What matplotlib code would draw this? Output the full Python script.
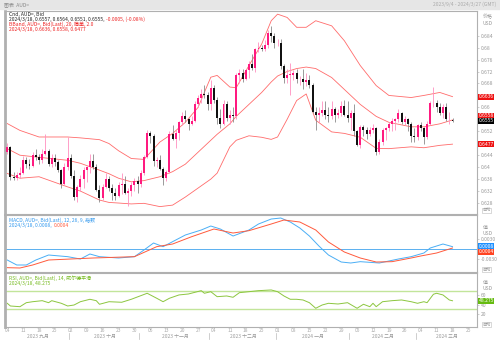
import matplotlib.pyplot as plt
import matplotlib.transforms as mtransforms
from matplotlib.patches import Rectangle

plt.rcParams['font.family'] = ['Noto Sans CJK SC', 'DejaVu Sans']

# daily candles, 2023/9/4 .. 2024/3/18 (index = trading day)
opens = [0.6450, 0.6468, 0.6367, 0.6365, 0.6375, 0.6380, 0.6425, 0.6412, 0.6405, 0.6440,
         0.6435, 0.6425, 0.6445, 0.6455, 0.6410, 0.6430, 0.6418, 0.6390, 0.6345, 0.6400,
         0.6430, 0.6370, 0.6300, 0.6335, 0.6360, 0.6390, 0.6400, 0.6420, 0.6400, 0.6325,
         0.6298, 0.6335, 0.6360, 0.6330, 0.6315, 0.6305, 0.6340, 0.6345, 0.6315, 0.6320,
         0.6340, 0.6355, 0.6345, 0.6380, 0.6435, 0.6515, 0.6505, 0.6420, 0.6425, 0.6395,
         0.6365, 0.6385, 0.6510, 0.6495, 0.6515, 0.6550, 0.6570, 0.6560, 0.6545, 0.6555,
         0.6610, 0.6630, 0.6645, 0.6640, 0.6610, 0.6665, 0.6625, 0.6565, 0.6545, 0.6610,
         0.6565, 0.6575, 0.6570, 0.6710, 0.6715, 0.6695, 0.6725, 0.6745, 0.6732, 0.6795,
         0.6800, 0.6795, 0.6810, 0.6850, 0.6840, 0.6815, 0.6815, 0.6740, 0.6700, 0.6710,
         0.6710, 0.6715, 0.6695, 0.6695, 0.6685, 0.6690, 0.6675, 0.6585, 0.6575, 0.6580,
         0.6590, 0.6575, 0.6570, 0.6595, 0.6575, 0.6580, 0.6605, 0.6575, 0.6565, 0.6580,
         0.6520, 0.6475, 0.6535, 0.6525, 0.6510, 0.6525, 0.6530, 0.6450, 0.6485, 0.6525,
         0.6530, 0.6545, 0.6555, 0.6560, 0.6580, 0.6550, 0.6560, 0.6545, 0.6505, 0.6500,
         0.6540, 0.6530, 0.6500, 0.6545, 0.6615, 0.6615, 0.6600, 0.6580, 0.6600, 0.6560,
         0.6557]
highs = [0.6480, 0.6470, 0.6385, 0.6383, 0.6400, 0.6436, 0.6433, 0.6428, 0.6450, 0.6460,
         0.6445, 0.6460, 0.6510, 0.6460, 0.6445, 0.6445, 0.6425, 0.6395, 0.6415, 0.6500,
         0.6445, 0.6390, 0.6340, 0.6375, 0.6400, 0.6405, 0.6443, 0.6445, 0.6410, 0.6340,
         0.6345, 0.6380, 0.6370, 0.6345, 0.6330, 0.6350, 0.6380, 0.6370, 0.6330, 0.6350,
         0.6365, 0.6370, 0.6390, 0.6440, 0.6525, 0.6522, 0.6510, 0.6435, 0.6440, 0.6400,
         0.6390, 0.6520, 0.6540, 0.6525, 0.6555, 0.6585, 0.6590, 0.6565, 0.6570, 0.6620,
         0.6640, 0.6660, 0.6675, 0.6650, 0.6690, 0.6675, 0.6635, 0.6595, 0.6625, 0.6620,
         0.6590, 0.6600, 0.6715, 0.6730, 0.6728, 0.6730, 0.6755, 0.6780, 0.6800, 0.6820,
         0.6810, 0.6825, 0.6860, 0.6871, 0.6850, 0.6830, 0.6830, 0.6745, 0.6730, 0.6750,
         0.6725, 0.6730, 0.6705, 0.6730, 0.6715, 0.6710, 0.6680, 0.6600, 0.6600, 0.6620,
         0.6620, 0.6600, 0.6620, 0.6600, 0.6595, 0.6620, 0.6625, 0.6620, 0.6590, 0.6610,
         0.6525, 0.6540, 0.6540, 0.6535, 0.6535, 0.6545, 0.6535, 0.6495, 0.6530, 0.6535,
         0.6550, 0.6565, 0.6565, 0.6595, 0.6585, 0.6570, 0.6565, 0.6550, 0.6530, 0.6545,
         0.6550, 0.6535, 0.6555, 0.6620, 0.6668, 0.6625, 0.6615, 0.6610, 0.6615, 0.6585,
         0.6564]
lows = [0.6443, 0.6357, 0.6358, 0.6357, 0.6365, 0.6378, 0.6398, 0.6395, 0.6400, 0.6425,
        0.6410, 0.6415, 0.6440, 0.6405, 0.6400, 0.6405, 0.6385, 0.6330, 0.6340, 0.6390,
        0.6365, 0.6290, 0.6285, 0.6320, 0.6330, 0.6350, 0.6380, 0.6395, 0.6320, 0.6285,
        0.6290, 0.6330, 0.6320, 0.6290, 0.6290, 0.6300, 0.6310, 0.6310, 0.6270, 0.6305,
        0.6320, 0.6315, 0.6335, 0.6375, 0.6430, 0.6480, 0.6405, 0.6400, 0.6390, 0.6340,
        0.6355, 0.6380, 0.6490, 0.6465, 0.6490, 0.6540, 0.6550, 0.6525, 0.6540, 0.6550,
        0.6600, 0.6615, 0.6630, 0.6590, 0.6590, 0.6615, 0.6545, 0.6530, 0.6540, 0.6555,
        0.6545, 0.6550, 0.6560, 0.6680, 0.6685, 0.6690, 0.6700, 0.6725, 0.6720, 0.6785,
        0.6790, 0.6790, 0.6800, 0.6820, 0.6800, 0.6805, 0.6730, 0.6680, 0.6680, 0.6640,
        0.6690, 0.6680, 0.6675, 0.6660, 0.6670, 0.6665, 0.6580, 0.6525, 0.6550, 0.6570,
        0.6560, 0.6550, 0.6560, 0.6550, 0.6565, 0.6570, 0.6570, 0.6550, 0.6525, 0.6505,
        0.6470, 0.6465, 0.6505, 0.6495, 0.6505, 0.6515, 0.6442, 0.6445, 0.6475, 0.6490,
        0.6520, 0.6520, 0.6525, 0.6550, 0.6545, 0.6540, 0.6520, 0.6485, 0.6485, 0.6490,
        0.6520, 0.6478, 0.6495, 0.6540, 0.6600, 0.6585, 0.6575, 0.6565, 0.6555, 0.6545,
        0.6551]
closes = [0.6468, 0.6367, 0.6365, 0.6375, 0.6380, 0.6425, 0.6412, 0.6405, 0.6440, 0.6435,
          0.6425, 0.6445, 0.6455, 0.6410, 0.6430, 0.6418, 0.6390, 0.6345, 0.6400, 0.6430,
          0.6370, 0.6300, 0.6335, 0.6360, 0.6390, 0.6400, 0.6420, 0.6400, 0.6325, 0.6298,
          0.6335, 0.6360, 0.6330, 0.6315, 0.6305, 0.6340, 0.6345, 0.6315, 0.6320, 0.6340,
          0.6355, 0.6345, 0.6380, 0.6435, 0.6515, 0.6505, 0.6420, 0.6425, 0.6395, 0.6365,
          0.6385, 0.6510, 0.6495, 0.6515, 0.6550, 0.6570, 0.6560, 0.6545, 0.6555, 0.6610,
          0.6630, 0.6645, 0.6640, 0.6610, 0.6665, 0.6625, 0.6565, 0.6545, 0.6610, 0.6565,
          0.6575, 0.6570, 0.6710, 0.6715, 0.6695, 0.6725, 0.6745, 0.6732, 0.6795, 0.6800,
          0.6795, 0.6810, 0.6850, 0.6840, 0.6815, 0.6815, 0.6740, 0.6700, 0.6710, 0.6710,
          0.6715, 0.6695, 0.6695, 0.6685, 0.6690, 0.6675, 0.6585, 0.6575, 0.6580, 0.6590,
          0.6575, 0.6570, 0.6595, 0.6575, 0.6580, 0.6605, 0.6575, 0.6565, 0.6580, 0.6520,
          0.6475, 0.6535, 0.6525, 0.6510, 0.6525, 0.6530, 0.6450, 0.6485, 0.6525, 0.6530,
          0.6545, 0.6555, 0.6560, 0.6580, 0.6550, 0.6560, 0.6545, 0.6505, 0.6500, 0.6540,
          0.6530, 0.6500, 0.6545, 0.6615, 0.6615, 0.6600, 0.6580, 0.6600, 0.6560, 0.6560,
          0.6555]

# bollinger band (20, 2.0)
bb_idx = [0, 4, 10, 19, 23, 29, 32, 35, 39, 43, 48, 52, 56, 60, 64, 66, 70, 72, 76, 80,
          83, 85, 88, 91, 94, 97, 102, 106, 111, 116, 120, 127, 131, 136, 140]
bb_upper = [0.6546, 0.6523, 0.6501, 0.6501, 0.6498, 0.6492, 0.6479, 0.6455, 0.6429, 0.6426,
            0.6484, 0.6513, 0.6550, 0.6600, 0.6701, 0.6707, 0.6668, 0.6666, 0.6740, 0.6812,
            0.6890, 0.6912, 0.6901, 0.6868, 0.6868, 0.6890, 0.6873, 0.6823, 0.6740, 0.6673,
            0.6640, 0.6633, 0.6640, 0.6650, 0.6636]
bb_middle = [0.6462, 0.6440, 0.6433, 0.6423, 0.6413, 0.6390, 0.6378, 0.6363, 0.6351, 0.6355,
             0.6368, 0.6385, 0.6410, 0.6450, 0.6490, 0.6510, 0.6545, 0.6570, 0.6610, 0.6650,
             0.6685, 0.6705, 0.6720, 0.6730, 0.6735, 0.6730, 0.6700, 0.6660, 0.6610, 0.6570,
             0.6550, 0.6535, 0.6535, 0.6545, 0.6558]
bb_lower = [0.6379, 0.6363, 0.6368, 0.6334, 0.6320, 0.6290, 0.6282, 0.6280, 0.6277, 0.6279,
            0.6268, 0.6273, 0.6300, 0.6330, 0.6360, 0.6380, 0.6468, 0.6490, 0.6505, 0.6500,
            0.6493, 0.6501, 0.6560, 0.6623, 0.6645, 0.6557, 0.6518, 0.6513, 0.6500, 0.6463,
            0.6462, 0.6468, 0.6465, 0.6473, 0.6477]

# MACD (12, 26, 9)
macd_idx = [0, 3, 6, 9, 13, 19, 23, 26, 29, 35, 40, 43, 46, 49, 52, 56, 61, 64, 67, 71,
            76, 79, 83, 86, 89, 92, 95, 98, 101, 105, 108, 111, 117, 123, 127, 131, 133, 137, 140]
macd_line = [-0.0032, -0.0047, -0.0047, -0.0032, -0.0017, -0.0022, -0.0029, -0.0014, -0.0022, -0.0026,
             -0.0022, -0.0002, 0.0019, 0.0008, 0.0023, 0.0043, 0.0058, 0.0070, 0.0061, 0.0040,
             0.0058, 0.0076, 0.0091, 0.0094, 0.0082, 0.0064, 0.0040, 0.0010, -0.0017, -0.0038,
             -0.0041, -0.0037, -0.0041, -0.0029, -0.0022, -0.0011, 0.0004, 0.0016, 0.0008]
sig_idx = [0, 4, 8, 13, 27, 40, 47, 52, 58, 65, 71, 76, 83, 87, 92, 97, 101, 106, 111, 116,
           121, 127, 130, 135, 140]
sig_line = [-0.0055, -0.0056, -0.0047, -0.0032, -0.0026, -0.0022, 0.0008, 0.0016, 0.0038, 0.0061,
            0.0049, 0.0056, 0.0076, 0.0088, 0.0082, 0.0058, 0.0022, -0.0008, -0.0026, -0.0038,
            -0.0037, -0.0026, -0.0020, -0.0011, 0.0004]

# RSI (14)
rsi_idx = [0, 1, 4, 6, 8, 11, 13, 14, 17, 19, 21, 23, 26, 28, 29, 32, 36, 39, 44, 47,
           49, 51, 54, 57, 61, 62, 64, 66, 69, 71, 73, 76, 79, 83, 85, 87, 89, 91, 93, 95,
           97, 99, 101, 104, 107, 110, 112, 114, 115, 116, 118, 121, 124, 127, 129, 131, 132, 134, 135, 137,
           139, 140]
rsi_vals = [42.9, 37.1, 35.6, 44.2, 46.3, 48.5, 44.2, 48.5, 42.9, 37.1, 39.2, 46.3, 51.5, 48.5, 40.8,
            46.3, 45.1, 51.5, 64.4, 53.7, 46.3, 53.7, 60.8, 62.9, 70.0, 64.4, 67.8, 57.1, 58.6, 55.8,
            65.7, 67.8, 70.0, 71.5, 67.8, 58.6, 51.5, 51.5, 50.0, 44.2, 32.2, 39.2, 42.9, 41.4, 44.2,
            32.2, 40.8, 35.6, 42.9, 35.6, 46.3, 48.5, 50.0, 46.3, 42.9, 46.3, 44.2, 62.3, 64.4, 60.8,
            50.0, 48.3]

week_days = ['04', '11', '18', '25', '02', '09', '16', '23', '30', '06', '13', '20', '27', '04', '11',
             '18', '25', '01', '08', '15', '22', '29', '05', '12', '19', '26', '04', '11', '18', '25']
months = ['2023 九月', '2023 十月', '2023 十一月', '2023 十二月', '2024 一月', '2024 二月', '2024 三月']
month_start = [0, 20, 42, 64, 85, 108, 129]

up_col = '#ff1a80'
band_col = '#ff6b6b'
grey = '#9a9a9a'
xl = (-0.7, 147.7)
fs = 3.6

fig = plt.figure(figsize=(5, 3.4), dpi=100)

# title bar
fig.patches.append(Rectangle((0, 0.974), 1, 0.026, transform=fig.transFigure, color='#e6e6e6', zorder=0))
fig.text(0.008, 0.987, '图表  AUD=', fontsize=fs, color='#888888', va='center')
fig.text(0.992, 0.987, '2023/9/4 - 2024/3/27 (GMT)', fontsize=fs, color='#aaaaaa', va='center', ha='right')

ax1 = fig.add_axes([0.01, 0.3706, 0.944, 0.5977])
ax2 = fig.add_axes([0.01, 0.2, 0.944, 0.1676])
ax3 = fig.add_axes([0.01, 0.0382, 0.944, 0.159])

for ax in (ax1, ax2, ax3):
    ax.set_xlim(*xl)
    for s in ax.spines.values():
        s.set_color('#b0b0b0')
        s.set_linewidth(0.8)
    ax.spines['left'].set_linewidth(2.0)
    ax.yaxis.tick_right()
    ax.tick_params(axis='y', labelsize=fs, labelcolor=grey, color='#bbbbbb', length=1.5, width=0.5, pad=1)
    ax.set_xticks([])


def chain(ax, first, rest, y, c1, c2, trans):
    # second coloured part placed right after the first one
    t = ax.text(0.008, y, first, color=c1, transform=trans, fontsize=fs, va='center', ha='left')
    ax.annotate(rest, xy=(1, 0.5), xycoords=t, xytext=(1.5, 0), textcoords='offset points',
                fontsize=fs, color=c2, va='center', ha='left')


# candles
idx = list(range(len(closes)))
for i in idx:
    o, h, l, c = opens[i], highs[i], lows[i], closes[i]
    up = c >= o
    body = up_col if up else '#111111'
    wick = '#ff8fbf' if up else '#8a8a8a'
    ax1.vlines(i, l, h, color=wick, lw=0.6, zorder=2)
    ax1.bar(i, max(abs(c - o), 0.00012), bottom=min(o, c), width=0.62, color=body, lw=0, zorder=3)

ax1.plot(bb_idx, bb_upper, color=band_col, lw=0.6, zorder=1)
ax1.plot(bb_idx, bb_middle, color=band_col, lw=0.6, zorder=1)
ax1.plot(bb_idx, bb_lower, color=band_col, lw=0.6, zorder=1)
ax1.set_ylim(0.62433, 0.69233)
ticks = [0.628 + 0.004 * k for k in range(15)]
hidden = ('0.664', '0.656', '0.648')
labels = []
for t in ticks:
    s = '%.3f' % t
    labels.append('' if s in hidden else s.rstrip('0'))
ax1.set_yticks(ticks)
ax1.set_yticklabels(labels)

ax1.text(0.008, 0.984, 'Cnd, AUD=, Bid', color='#222222', transform=ax1.transAxes, fontsize=fs, va='center')
chain(ax1, '2024/3/18, 0.6557, 0.6564, 0.6551, 0.6555,', '-0.0005, (-0.08%)', 0.958,
      '#222222', '#ee2222', ax1.transAxes)
ax1.text(0.008, 0.932, 'BBand, AUD=, Bid(Last), 20, 简单, 2.0', color='#ee2222',
         transform=ax1.transAxes, fontsize=fs, va='center')
ax1.text(0.008, 0.906, '2024/3/18, 0.6636, 0.6558, 0.6477', color='#ee2222',
         transform=ax1.transAxes, fontsize=fs, va='center')

tr1 = mtransforms.blended_transform_factory(ax1.transAxes, ax1.transData)
# value tags; the two near-equal ones are stacked as in the terminal
for pos, s, fc in [(0.6636, '0.6636', '#ee1111'), (0.6572, '0.6558', '#ee1111'),
                   (0.6555, '0.6555', '#000000'), (0.6477, '0.6477', '#ee1111')]:
    ax1.text(1.003, pos, s, transform=tr1, fontsize=fs, color='white', va='center', ha='left',
             bbox=dict(boxstyle='square,pad=0.12', fc=fc, ec='none'), clip_on=False, zorder=5)
ax1.text(1.012, 0.955, '价格\nUSD', transform=ax1.transAxes, fontsize=fs, color=grey, va='center',
         linespacing=1.25)

# MACD
ax2.axhline(0, color='#5ab0f0', lw=0.7)
ax2.plot(macd_idx, macd_line, color='#4aaef5', lw=0.7)
ax2.plot(sig_idx, sig_line, color='#ff5a3c', lw=0.7)
ax2.set_ylim(-0.0068, 0.0103)
ax2.set_yticks([-0.003, 0.003])
ax2.set_yticklabels(['-0.0030', '0.0030'])
ax2.text(0.008, 0.915, 'MACD, AUD=, Bid(Last), 12, 26, 9, 指数', color='#3399ee',
         transform=ax2.transAxes, fontsize=fs, va='center')
chain(ax2, '2024/3/18, 0.0008,', '0.0004', 0.82, '#3399ee', '#ff5a3c', ax2.transAxes)
tr2 = mtransforms.blended_transform_factory(ax2.transAxes, ax2.transData)
for pos, s, fc in [(0.0010, '0.0008', '#1e90ff'), (-0.0007, '0.0004', '#ff4422')]:
    ax2.text(1.003, pos, s, transform=tr2, fontsize=fs, color='white', va='center', ha='left',
             bbox=dict(boxstyle='square,pad=0.12', fc=fc, ec='none'), clip_on=False, zorder=5)
ax2.text(1.012, 0.72, '值\nUSD', transform=ax2.transAxes, fontsize=fs, color=grey, va='center',
         linespacing=1.25)

# RSI
ax3.axhline(70, color='#c2e59a', lw=1.0)
ax3.axhline(30, color='#c2e59a', lw=1.0)
ax3.plot(rsi_idx, rsi_vals, color='#8cc63f', lw=0.7)
ax3.set_ylim(-8, 108)
ax3.set_yticks([20, 40, 60])
ax3.text(0.008, 0.91, 'RSI, AUD=, Bid(Last), 14, 威尔德平滑', color='#77bb22',
         transform=ax3.transAxes, fontsize=fs, va='center')
ax3.text(0.008, 0.8, '2024/3/18, 48.275', color='#77bb22', transform=ax3.transAxes, fontsize=fs, va='center')
tr3 = mtransforms.blended_transform_factory(ax3.transAxes, ax3.transData)
ax3.text(1.003, 48.275, '48.275', transform=tr3, fontsize=fs, color='white', va='center', ha='left',
         bbox=dict(boxstyle='square,pad=0.12', fc='#66bb11', ec='none'), clip_on=False, zorder=5)
ax3.text(1.012, 0.76, '值\nUSD', transform=ax3.transAxes, fontsize=fs, color=grey, va='center',
         linespacing=1.25)

for ax in (ax1, ax2, ax3):
    ax.text(1.012, 0.008, '自动', transform=ax.transAxes, fontsize=3.0, color=grey, va='bottom', ha='left',
            bbox=dict(boxstyle='square,pad=0.1', fc='white', ec='#bbbbbb', lw=0.4), clip_on=False)

# date axis
trx = mtransforms.blended_transform_factory(ax3.transData, ax3.transAxes)
for k, d in enumerate(week_days):
    ax3.text(k * 5, -0.07, d, transform=trx, fontsize=3.5, color='#aaaaaa', ha='center', va='center')
ends = month_start[1:] + [xl[1]]
for m, s, e in zip(months, month_start, ends):
    a = max(s - 0.5, xl[0])
    ax3.text((a + e) / 2, -0.17, m, transform=trx, fontsize=3.5, color='#999999', ha='center', va='center')
for s in month_start[1:]:
    ax3.plot([s - 0.5, s - 0.5], [-0.12, -0.22], transform=trx, color='#bbbbbb', lw=0.5, clip_on=False)

fig.savefig('out.png', dpi=100)
